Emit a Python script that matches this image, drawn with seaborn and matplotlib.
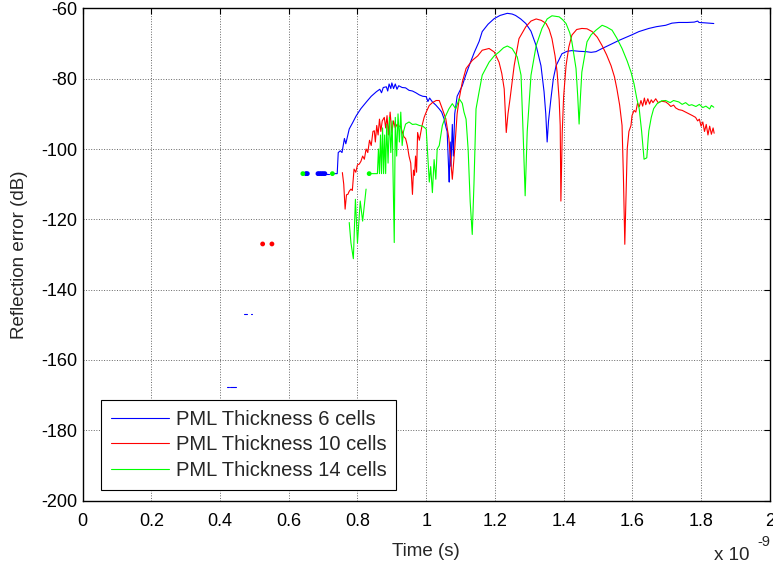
import numpy as np
import pandas as pd
import matplotlib
matplotlib.use("Agg")
import matplotlib.pyplot as plt
import seaborn as sns

nan = np.nan

series_names = ["PML Thickness 6 cells", "PML Thickness 10 cells", "PML Thickness 14 cells"]
series_colors = ["#0000ff", "#ff0000", "#00ff00"]

# Time in units of 1e-9 s, reflection error in dB; NaN separates segments
blue_t = [0.421, 0.425, nan, 0.430, 0.445, nan, 0.469, 0.478, nan, 0.490, 0.494, nan,
          0.709, 0.717, nan,
          0.727, 0.741, 0.744, 0.750, 0.755, 0.762, 0.766, 0.776, 0.786, 0.796, 0.810, 0.826, 0.840,
          0.855, 0.865, 0.870, 0.875, 0.884, 0.888, 0.892, 0.897, 0.900, 0.905, 0.910, 0.915, 0.920,
          0.930, 0.940, 0.950, 0.960, 0.970, 0.980, 0.990, 1.000, 1.005, 1.010, 1.018, 1.028, 1.038,
          1.045, 1.052, 1.058, 1.061, 1.065, 1.067, 1.070, 1.072, 1.076, 1.079, 1.083, 1.090, 1.100,
          1.105, 1.115, 1.125, 1.140, 1.154, 1.163, 1.180, 1.198, 1.215, 1.236, 1.250, 1.260, 1.275,
          1.290, 1.305, 1.320, 1.334, 1.343, 1.348, 1.352, 1.356, 1.363, 1.370, 1.378, 1.395, 1.410,
          1.424, 1.445, 1.465, 1.480, 1.494, 1.510, 1.523, 1.540, 1.561, 1.580, 1.599, 1.619, 1.635,
          1.648, 1.670, 1.697, 1.715, 1.735, 1.760, 1.780, 1.790, 1.794, 1.810, 1.837]
blue_db = [-167.7, -167.7, nan, -167.7, -167.7, nan, -146.9, -146.9, nan, -146.9, -146.9, nan,
           -107, -107, nan,
           -107, -107, -101, -100.5, -101, -97, -98.5, -94.3, -92.5, -90.6, -88.5, -86.6, -85,
           -83.7, -83, -84, -82.5, -82.3, -83.5, -81.5, -82.8, -81.2, -82.8, -81.5, -83, -82,
           -82.5, -82.6, -83.3, -83.5, -84, -84.6, -85, -85.1, -86.5, -85.5, -86.6, -87.5, -88.6,
           -89.5, -91.4, -94, -95, -105, -109.4, -98, -104.9, -93, -102, -90, -85, -83,
           -82, -79, -76.3, -72.5, -69.4, -66.6, -64.5, -62.9, -62, -61.4, -61.6, -62, -63,
           -64.3, -66.5, -70.6, -76.3, -83.7, -90, -98, -92, -85.7, -80, -76.3, -72.9, -72.2,
           -72, -72.2, -72.3, -72.5, -72.3, -71.5, -70.9, -70.1, -69.1, -68.3, -67.5, -66.6, -66.1,
           -65.7, -65.2, -64.8, -64.2, -64, -64, -63.9, -63.6, -64, -64.1, -64.3]

red_t = [0.756, 0.760, 0.764, 0.768, 0.772, 0.776, 0.781, 0.785, 0.790, 0.795, 0.800, 0.805, 0.810,
         0.815, 0.820, 0.825, 0.830, 0.835, 0.840, 0.845, 0.849, 0.852, 0.856, 0.860, 0.864, 0.868,
         0.872, 0.878, 0.882, 0.886, 0.890, 0.895, 0.900, 0.905, 0.910, 0.915, 0.920, 0.925, 0.930,
         0.935, 0.940, 0.945, 0.950, 0.955, 0.960, 0.963, 0.966, 0.969, 0.972, 0.975, 0.980, 0.988,
         0.994, 1.000, 1.009, 1.018, 1.029, 1.038, 1.047, 1.057, 1.066, 1.072, 1.076, 1.083, 1.090,
         1.096, 1.105, 1.116, 1.134, 1.150, 1.163, 1.183, 1.198, 1.212, 1.220, 1.227, 1.233, 1.238,
         1.244, 1.256, 1.270, 1.290, 1.305, 1.320, 1.335, 1.349, 1.358, 1.366, 1.375, 1.381, 1.387,
         1.390, 1.392, 1.396, 1.400, 1.407, 1.415, 1.424, 1.438, 1.453, 1.468, 1.483, 1.498, 1.512,
         1.525, 1.538, 1.548, 1.555, 1.563, 1.570, 1.574, 1.578, 1.582, 1.585, 1.590, 1.596, 1.599,
         1.605, 1.610, 1.615, 1.620, 1.625, 1.630, 1.635, 1.639, 1.645, 1.650, 1.655, 1.660, 1.668,
         1.675, 1.685, 1.697, 1.705, 1.712, 1.720, 1.726, 1.735, 1.745, 1.755, 1.765, 1.775, 1.784,
         1.790, 1.795, 1.800, 1.805, 1.810, 1.815, 1.820, 1.825, 1.830, 1.835, 1.838]
red_db = [-106.7, -110, -117.1, -113, -112.9, -112, -111.4, -111.8, -105.7, -106.6, -104.5, -104.3, -103.5,
          -102, -102.9, -100, -101, -97.5, -99, -95, -94.8, -98, -93.3, -96, -91.5, -95,
          -92, -91, -94, -90.5, -96, -89.5, -95.3, -92, -94, -93, -93.5, -93.5, -95,
          -96.5, -97, -99, -102, -104, -112.9, -106, -107.5, -102, -106.6, -95.3, -97.5, -93.3,
          -91, -89.5, -87.6, -86.8, -86.2, -86.2, -88.6, -91.4, -97, -104, -108.6, -100, -90,
          -85.7, -81, -77.1, -74.8, -73.5, -71.9, -71.4, -72.4, -75.3, -78.5, -82.9, -95.3, -90,
          -85.7, -76.3, -68.6, -65.2, -63.6, -63, -63.4, -64.3, -66, -68.6, -73.5, -78.1, -86,
          -93.3, -114.8, -95, -85, -76.3, -71, -67.6, -66, -65.7, -65.8, -66.6, -68.2, -70.6,
          -73.2, -76.3, -79.5, -82.9, -87.5, -93.3, -108, -127.1, -112, -100, -95, -93.3, -90.5,
          -89, -89.5, -87, -88, -86.2, -87.8, -85.5, -87.4, -85.7, -87.2, -86, -86.8, -85.7,
          -86.8, -86.4, -86.6, -87.2, -87.9, -87.5, -88.3, -88.8, -89, -89.5, -90, -90.5, -91,
          -92, -91.5, -93.5, -92.3, -95, -93, -96, -93.5, -95.8, -94, -95.5]

green_t = [0.776, 0.781, 0.788, 0.794, 0.800, 0.808, 0.815, 0.825, nan,
           0.834, 0.858, 0.861, 0.864, 0.867, 0.870, 0.873, 0.876, 0.879, 0.882, 0.885, 0.889, 0.893,
           0.897, 0.901, 0.904, 0.907, 0.910, 0.914, 0.918, 0.922, 0.926, 0.930, 0.934, 0.940, 0.950,
           0.960, 0.970, 0.980, 0.990, 1.000, 1.004, 1.009, 1.013, 1.018, 1.023, 1.028, 1.032, 1.038,
           1.047, 1.057, 1.066, 1.076, 1.086, 1.096, 1.105, 1.110, 1.116, 1.122, 1.128, 1.134, 1.139,
           1.145, 1.154, 1.163, 1.183, 1.198, 1.212, 1.225, 1.236, 1.250, 1.265, 1.276, 1.282, 1.288,
           1.294, 1.305, 1.320, 1.337, 1.352, 1.366, 1.387, 1.397, 1.407, 1.418, 1.424, 1.436, 1.441,
           1.445, 1.449, 1.453, 1.468, 1.480, 1.494, 1.512, 1.525, 1.541, 1.555, 1.570, 1.585, 1.596,
           1.605, 1.613, 1.620, 1.627, 1.634, 1.642, 1.646, 1.648, 1.655, 1.662, 1.672, 1.685, 1.697,
           1.710, 1.720, 1.735, 1.745, 1.755, 1.765, 1.773, 1.785, 1.795, 1.805, 1.814, 1.825, 1.830,
           1.837]
green_db = [-120.9, -126.7, -131.2, -114.3, -126.7, -114.8, -120.5, -111.4, nan,
            -107, -107, -100, -107, -96, -107, -94, -107, -96, -107, -93, -104, -91,
            -101, -92, -110, -126.6, -91, -102, -90, -98, -89.5, -99, -95, -92.9, -92.3,
            -93, -92.9, -93.3, -93.5, -94.3, -101, -109.4, -105, -112.4, -103, -108.6, -100, -99,
            -93.3, -90.5, -88.6, -87.1, -88.6, -85.7, -87, -89.5, -91.5, -100, -115, -124.3, -110,
            -88.6, -83.7, -79, -75.3, -73.5, -72.4, -71.2, -70.7, -71.4, -73.8, -79, -95.3, -113.3,
            -95, -79, -70.6, -65.7, -63, -62.1, -62.4, -63.2, -64.3, -67, -69.5, -77.1, -85,
            -92.9, -85, -78.1, -69.5, -67.5, -66.2, -64.8, -65.3, -66.2, -68.5, -71.4, -75, -78.1,
            -81.5, -85.7, -88.6, -95, -102.9, -102.5, -97, -94.8, -91, -88.5, -87.1, -86.3, -86.2,
            -86.8, -86.2, -86.6, -87.3, -86.8, -87.6, -87.4, -87.9, -87.3, -88.2, -87.8, -88.6, -87.6,
            -88.1]

# Isolated single samples (drawn as dots)
blue_dot_t = [0.650, 0.654, 0.685, 0.690, 0.695, 0.700, 0.705]
blue_dot_db = [-107, -107, -107, -107, -107, -107, -107]
red_dot_t = [0.524, 0.551]
red_dot_db = [-127, -127]
green_dot_t = [0.641, 0.727, 0.834]
green_dot_db = [-107, -107, -107]

x_ticks = [0, 0.2, 0.4, 0.6, 0.8, 1, 1.2, 1.4, 1.6, 1.8, 2]
x_tick_labels = ["0", "0.2", "0.4", "0.6", "0.8", "1", "1.2", "1.4", "1.6", "1.8", "2"]
y_ticks = [-200, -180, -160, -140, -120, -100, -80, -60]
y_tick_labels = ["-200", "-180", "-160", "-140", "-120", "-100", "-80", "-60"]


def build(name, ts, ds):
    rows = []
    seg = 0
    for t, d in zip(ts, ds):
        if np.isnan(t):
            seg += 1
            continue
        rows.append({"t": t, "db": d, "series": name, "seg": f"{name}-{seg}"})
    return rows


rows = []
rows += build(series_names[0], blue_t, blue_db)
rows += build(series_names[1], red_t, red_db)
rows += build(series_names[2], green_t, green_db)
lines = pd.DataFrame(rows)

dots = pd.DataFrame({
    "t": blue_dot_t + red_dot_t + green_dot_t,
    "db": blue_dot_db + red_dot_db + green_dot_db,
    "series": [series_names[0]] * len(blue_dot_t) + [series_names[1]] * len(red_dot_t)
              + [series_names[2]] * len(green_dot_t),
})

sns.set_style("white")
plt.rcParams["font.family"] = ["Liberation Sans", "DejaVu Sans"]
plt.rcParams["axes.unicode_minus"] = False

fig = plt.figure(figsize=(7.73, 5.72), dpi=100)
ax_l, ax_r, ax_t, ax_b = 82.6, 769.8, 8.4, 500.6
ax = fig.add_axes([ax_l / 773, 1 - ax_b / 572, (ax_r - ax_l) / 773, (ax_b - ax_t) / 572])

palette = dict(zip(series_names, series_colors))
sns.lineplot(data=lines, x="t", y="db", hue="series", units="seg", estimator=None,
             sort=False, hue_order=series_names, palette=palette, linewidth=0.8, ax=ax)
sns.scatterplot(data=dots, x="t", y="db", hue="series", hue_order=series_names,
                palette=palette, s=12, linewidth=0, legend=False, ax=ax, zorder=3)

ax.set_xlim(0, 2)
ax.set_ylim(-200, -60)
ax.set_xticks(x_ticks)
ax.set_xticklabels(x_tick_labels)
ax.set_yticks(y_ticks)
ax.set_yticklabels(y_tick_labels)
ax.tick_params(direction="in", top=True, right=True, length=4, width=0.8,
               labelsize=13, colors="black")
ax.tick_params(axis="x", pad=9)
ax.tick_params(axis="y", pad=4)
ax.grid(True, linestyle=":", color="0.4", linewidth=0.7)
for sp in ax.spines.values():
    sp.set_color("black")
    sp.set_linewidth(1.0)
    sp.set_visible(True)

ax.set_xlabel("Time (s)", fontsize=13.5, labelpad=9)
ax.set_ylabel("Reflection error (dB)", fontsize=13.5, labelpad=9)

leg = ax.legend(loc="lower left", bbox_to_anchor=((101 - ax_l) / (ax_r - ax_l), (ax_b - 490) / (ax_b - ax_t)),
                borderaxespad=0, fontsize=14.5, frameon=True, fancybox=False, edgecolor="black",
                handlelength=2.9, handletextpad=0.3, labelspacing=0.33, borderpad=0.5)
leg.get_frame().set_linewidth(0.8)
leg.get_frame().set_alpha(1)

fig.text(750 / 773, 1 - 555 / 572, "x 10", fontsize=13.5, ha="right", va="center")
fig.text(757 / 773, 1 - 542 / 572, "-9", fontsize=10.5, ha="left", va="center")

fig.savefig("out.png", dpi=100)
